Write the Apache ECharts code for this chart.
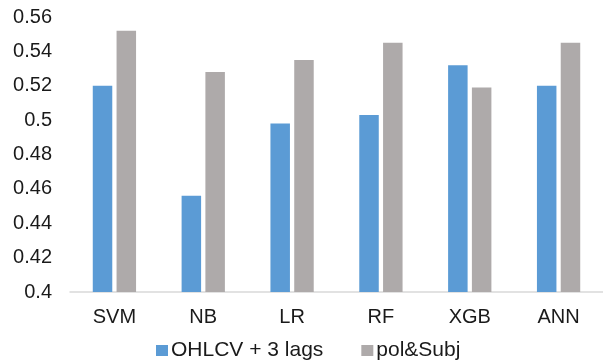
<!DOCTYPE html>
<html><head><meta charset="utf-8">
<script src="https://cdn.jsdelivr.net/npm/echarts@6/dist/echarts.min.js"></script>
<style>html,body{margin:0;padding:0;background:#fff}#c{width:603px;height:362px}</style>
</head><body><div id="c"></div>
<script>
const categories = ['SVM','NB','LR','RF','XGB','ANN'];
const seriesNames = ['OHLCV + 3 lags','pol&Subj'];
const ohlcv = [0.520, 0.456, 0.498, 0.503, 0.532, 0.520];
const polSubj = [0.552, 0.528, 0.535, 0.545, 0.519, 0.545];
const yTicks = [0.4,0.42,0.44,0.46,0.48,0.5,0.52,0.54,0.56];

const font = 'Liberation Sans, Arial, sans-serif';
const chart = echarts.init(document.getElementById('c'));
chart.setOption({
  animation:false,
  textStyle:{fontFamily:font},
  grid:{left:70, top:17, width:535, bottom:70, containLabel:false},
  legend:{
    data:seriesNames, left:156, top:340, padding:0, itemWidth:12, itemHeight:11, itemGap:38,
    icon:'rect',
    textStyle:{fontSize:21, color:'#1a1a1a', fontFamily:font, padding:[0,0,0,-2]}
  },
  xAxis:{
    type:'category', data:categories,
    axisLine:{show:true, lineStyle:{color:'#D9D9D9', width:1.5}},
    axisTick:{show:false},
    axisLabel:{fontSize:20, color:'#1a1a1a', margin:15, fontFamily:font}
  },
  yAxis:{
    type:'value', min:0.4, max:0.56, interval:0.02,
    splitLine:{show:false}, axisLine:{show:false}, axisTick:{show:false},
    axisLabel:{fontSize:20, color:'#1a1a1a', margin:18, fontFamily:font,
      formatter:v=>{const t=yTicks.find(x=>Math.abs(x-v)<1e-9); return t===undefined?'':String(t);}}
  },
  series:[
    {name:seriesNames[0], type:'bar', data:ohlcv, barWidth:19.5, barGap:'22%', itemStyle:{color:'#5B9BD5'}},
    {name:seriesNames[1], type:'bar', data:polSubj, barWidth:19.5, barGap:'22%', itemStyle:{color:'#AEAAAA'}}
  ]
});
</script></body></html>
